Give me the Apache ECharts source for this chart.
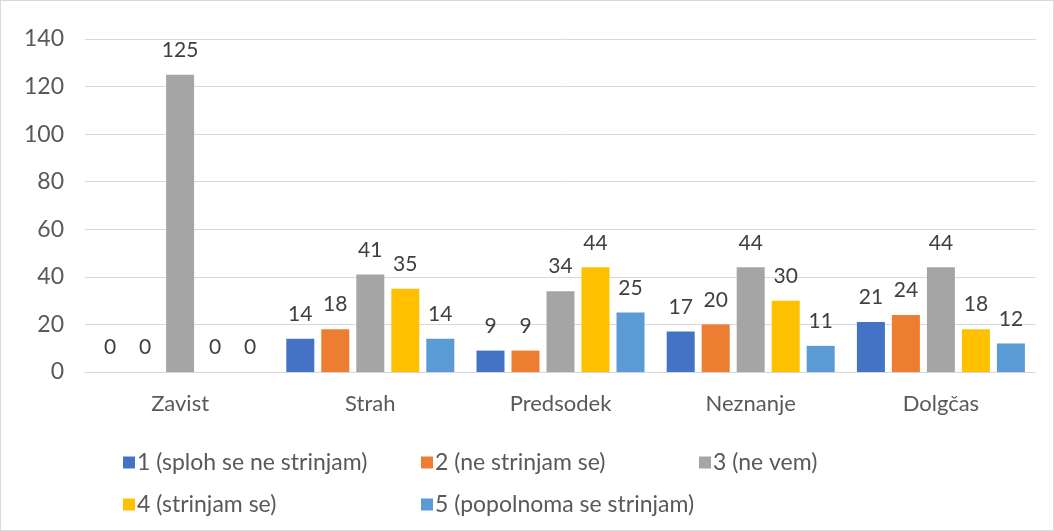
<!DOCTYPE html>
<html>
<head>
<meta charset="utf-8">
<script src="https://cdn.jsdelivr.net/npm/echarts@6/dist/echarts.min.js"></script>
<style>
  html, body { margin: 0; padding: 0; background: #fff; }
  #chart { width: 1054px; height: 531px; box-sizing: border-box; border: 1px solid #d9d9d9; }
</style>
</head>
<body>
<div id="chart"></div>
<script>
const categories = ['Zavist', 'Strah', 'Predsodek', 'Neznanje', 'Dolgčas'];
const seriesNames = ['1 (sploh se ne strinjam)', '2 (ne strinjam se)', '3 (ne vem)', '4 (strinjam se)', '5 (popolnoma se strinjam)'];
const s1 = [0, 14, 9, 17, 21];
const s2 = [0, 18, 9, 20, 24];
const s3 = [125, 41, 34, 44, 44];
const s4 = [0, 35, 44, 30, 18];
const s5 = [0, 14, 25, 11, 12];
const colors = ['#4472C4', '#ED7D31', '#A5A5A5', '#FFC000', '#5B9BD5'];

const font = 'Lato, "Liberation Sans", sans-serif';
const textColor = '#595959';

const chart = echarts.init(document.getElementById('chart'));

// legend positions (two rows like the original)
const legendPos = [
  { left: 117, top: 445 },
  { left: 415, top: 445 },
  { left: 693, top: 445 },
  { left: 117, top: 487 },
  { left: 415, top: 487 }
];

const allData = [s1, s2, s3, s4, s5];

chart.setOption({
  animation: false,
  color: colors,
  textStyle: { fontFamily: font },
  grid: { left: 84, right: 17, top: 38, bottom: 158 },
  legend: seriesNames.map((name, i) => ({
    data: [name],
    left: legendPos[i].left,
    top: legendPos[i].top,
    icon: 'rect',
    itemWidth: 12,
    itemHeight: 12,
    itemGap: 4,
    textStyle: { fontFamily: font, fontSize: 23, color: textColor, padding: [0, 0, 0, -3] }
  })),
  xAxis: {
    type: 'category',
    data: categories,
    axisLine: { lineStyle: { color: '#d9d9d9', width: 1 } },
    axisTick: { show: false },
    axisLabel: { fontFamily: font, fontSize: 22, color: textColor, margin: 21 }
  },
  yAxis: {
    type: 'value',
    min: 0,
    max: 140,
    interval: 20,
    axisLine: { show: false },
    axisTick: { show: false },
    splitLine: { lineStyle: { color: '#d9d9d9', width: 1 } },
    axisLabel: { fontFamily: font, fontSize: 23, color: textColor, margin: 21 }
  },
  series: seriesNames.map((name, i) => ({
    name: name,
    type: 'bar',
    data: allData[i],
    barWidth: 28,
    barGap: '25%',
    label: {
      show: true,
      position: 'top',
      distance: 14,
      fontFamily: font,
      fontSize: 21,
      color: '#404040'
    }
  }))
});
</script>
</body>
</html>
